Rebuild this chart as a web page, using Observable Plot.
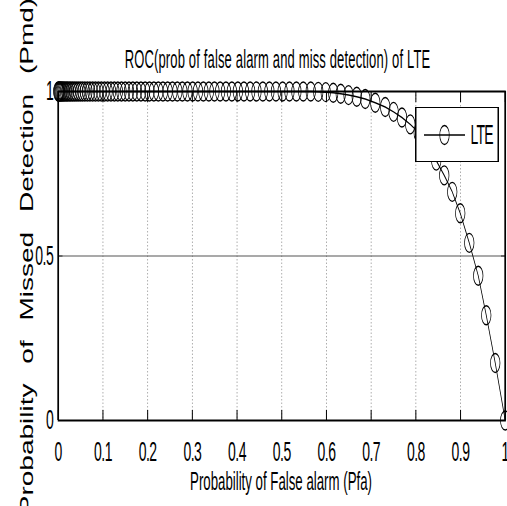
<!DOCTYPE html>
<html>
<head>
<meta charset="utf-8">
<script src="https://cdn.jsdelivr.net/npm/d3@7"></script>
<script src="https://cdn.jsdelivr.net/npm/@observablehq/plot@0.6"></script>
<style>
  html, body { margin: 0; padding: 0; background: white; overflow: hidden; width: 507px; height: 506px; }
  #wrap { position: absolute; left: 0; top: 0; width: 1014px; transform: scaleX(0.5); transform-origin: 0 0; font-family: "Liberation Sans", Arial, sans-serif; color: black; }
  #title { height: 75px; box-sizing: border-box; padding-top: 46px; padding-left: 96px; text-align: center; font-size: 26px; letter-spacing: 0.3px; line-height: 1; white-space: nowrap; }
  #xlabel { box-sizing: border-box; padding-top: 2px; padding-left: 110px; text-align: center; font-size: 26.5px; line-height: 1; white-space: nowrap; }
  #legend { position: absolute; left: 830px; top: 107px; width: 168px; height: 55px; box-sizing: border-box; background: white;
            border-top: 1.5px solid black; border-bottom: 1.5px solid black; border-left: 3px solid black; border-right: 3px solid black;
            display: flex; align-items: center; }
  #legend span { font-size: 28px; letter-spacing: -1.5px; line-height: 1; margin-left: 8px; }
  #ylabel { position: absolute; left: 26.5px; top: 256px; transform: translate(-50%, -50%) rotate(-90deg) scaleY(0.66);
            font-family: "Liberation Sans", Arial, sans-serif; font-size: 28px; line-height: 1; white-space: nowrap; word-spacing: 12px; z-index: 5; }
</style>
</head>
<body>
<div id="wrap">
  <div id="title"></div>
  <div id="chart"></div>
  <div id="xlabel"></div>
  <div id="legend"></div>
</div>
<div id="ylabel"></div>
<script>
// ---- data ----
const titleText = "ROC(prob of false alarm and miss detection) of LTE";
const xLabelText = "Probability of False alarm (Pfa)";
const yLabelText = "Probability of Missed Detection (Pmd)";
const seriesName = "LTE";

const pfa = [
  0, 0.0011, 0.0022, 0.0038, 0.0056, 0.0076, 0.0098, 0.0123, 0.0150, 0.0179,
  0.0210, 0.0244, 0.0280, 0.0318, 0.0358, 0.0400, 0.0445, 0.0492, 0.0541,
  0.0595, 0.0651, 0.0709, 0.0770, 0.0832, 0.0897, 0.0964, 0.1034, 0.1105, 0.1179, 0.1255, 0.1333, 0.1414,
  0.1497, 0.1582, 0.1669, 0.1758, 0.1850, 0.1944, 0.2040, 0.2139, 0.2239, 0.2342, 0.2447, 0.2555,
  0.2664, 0.2776, 0.2890, 0.3007, 0.3125, 0.3246, 0.3369, 0.3494, 0.3622, 0.3752, 0.3884, 0.4018,
  0.4154, 0.4293, 0.4434, 0.4577, 0.4723, 0.4870, 0.5020, 0.5172, 0.5327,
  0.5481, 0.5649, 0.5817, 0.5984, 0.6152, 0.6320, 0.6494, 0.6678, 0.6868, 0.7092,
  0.7315, 0.7501, 0.7689, 0.7875, 0.8065, 0.8255, 0.8456, 0.8635, 0.8814, 0.8993,
  0.9195, 0.9396, 0.9575, 0.9776, 1.0
];
const pmd = [
  1, 1, 1, 1, 1, 1, 1, 1, 1, 1,
  1, 1, 1, 1, 1, 1, 1, 1, 1,
  1, 1, 1, 1, 1, 1, 1, 1, 1, 1, 1, 1, 1,
  1, 1, 1, 1, 1, 1, 1, 1, 1, 1, 1, 1,
  1, 1, 1, 1, 1, 1, 1, 1, 1, 1, 1, 1,
  1, 1, 1, 1, 1, 1, 1, 1, 1,
  1, 1, 0.999, 0.998, 0.996, 0.993, 0.989, 0.984, 0.977, 0.966,
  0.953, 0.938, 0.921, 0.900, 0.875, 0.840, 0.790, 0.745, 0.695, 0.630,
  0.540, 0.440, 0.320, 0.175, 0
];
const xTicks = [0, 0.1, 0.2, 0.3, 0.4, 0.5, 0.6, 0.7, 0.8, 0.9, 1];
const xGrid = [0.1, 0.2, 0.3, 0.4, 0.5, 0.6, 0.7, 0.8, 0.9];
const yTicks = [0, 0.5, 1];
const yGrid = [0.5];
const xDomain = [0, 1];
const yDomain = [0, 1];

const data = pfa.map((x, i) => ({pfa: x, pmd: pmd[i]}));

document.getElementById("title").textContent = titleText;
document.getElementById("xlabel").textContent = xLabelText;
document.getElementById("ylabel").textContent = yLabelText;
document.getElementById("legend").innerHTML =
  '<svg width="100" height="52" style="display:block"><line x1="15" x2="97" y1="26" y2="26" stroke="black" stroke-width="1.5"/>' +
  '<circle cx="56" cy="26" r="9.5" fill="none" stroke="black" stroke-width="1.4"/></svg><span></span>';
document.querySelector("#legend span").textContent = seriesName;

const chart = Plot.plot({
  width: 1014,
  height: 391,
  marginTop: 16,
  marginBottom: 46,
  marginLeft: 116,
  marginRight: 4,
  x: {domain: xDomain},
  y: {domain: yDomain},
  style: {fontFamily: "Liberation Sans, Arial, sans-serif", fontSize: "28px", letterSpacing: "-1px", overflow: "visible", background: "white", color: "black"},
  marks: [
    Plot.gridX({ticks: xGrid, stroke: "#9a9a9a", strokeOpacity: 1, strokeWidth: 1.6, strokeDasharray: "1.5,2"}),
    Plot.gridY({ticks: yGrid, stroke: "#555", strokeOpacity: 1, strokeWidth: 1.1}),
    Plot.axisX({ticks: xTicks, anchor: "bottom", tickSize: -10, tickFormat: () => "", label: null, strokeWidth: 2}),
    Plot.axisX({ticks: xTicks, anchor: "top", tickSize: -10, tickFormat: () => "", label: null, strokeWidth: 2}),
    Plot.axisY({ticks: yTicks, anchor: "left", tickSize: -9, tickFormat: () => "", label: null}),
    Plot.axisY({ticks: yTicks, anchor: "right", tickSize: -9, tickFormat: () => "", label: null}),
    Plot.axisX({ticks: xTicks, anchor: "bottom", tickSize: 0, tickPadding: 21, tickFormat: d => String(d), label: null}),
    Plot.axisY({ticks: yTicks, anchor: "left", tickSize: 0, tickPadding: 10, tickFormat: d => String(d), label: null}),
    Plot.frame({stroke: "black", strokeWidth: 2}),
    Plot.ruleX(xDomain, {stroke: "black", strokeWidth: 3.2}),
    Plot.line(data, {x: "pfa", y: "pmd", stroke: "black", strokeWidth: 1.5}),
    Plot.dot(data, {x: "pfa", y: "pmd", r: 9.5, stroke: "black", strokeWidth: 1.4, fill: "none"})
  ]
});
document.getElementById("chart").appendChild(chart);
</script>
</body>
</html>
